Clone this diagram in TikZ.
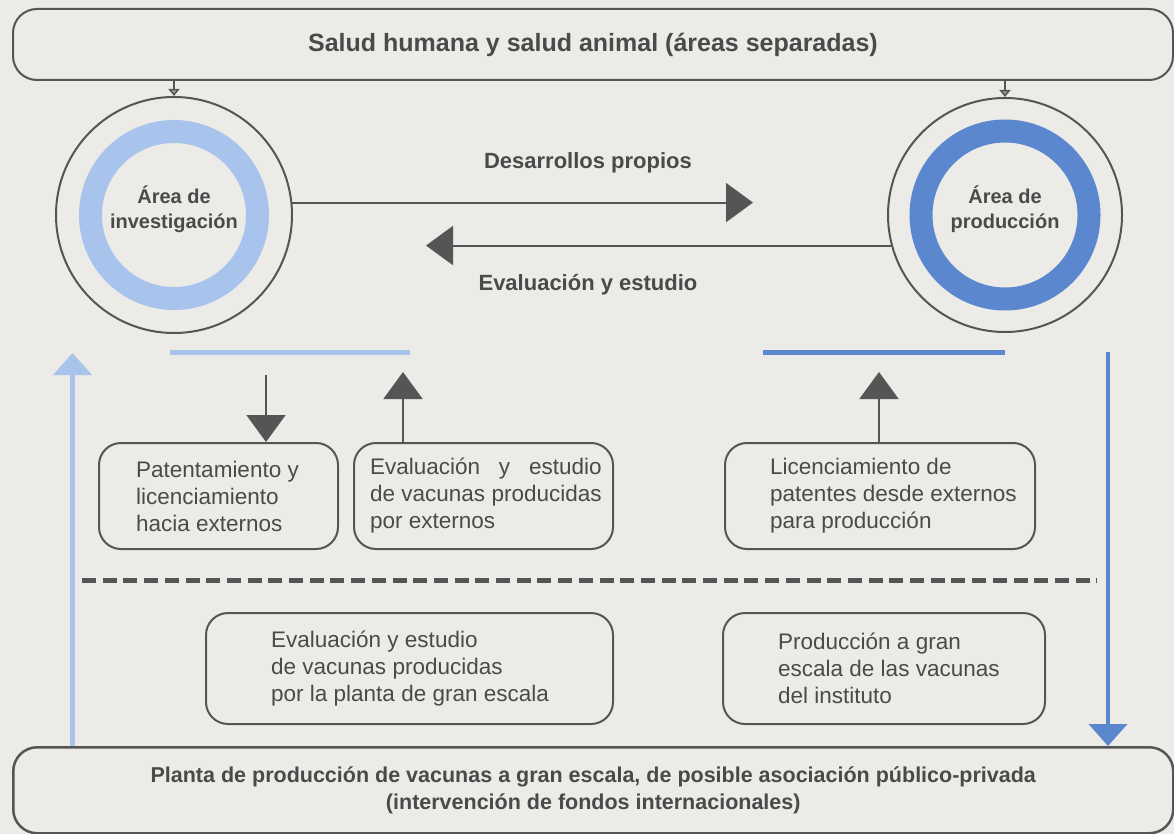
\documentclass[tikz,border=0pt]{standalone}
\usepackage{fontspec}
\setmainfont{Liberation Sans}
\usetikzlibrary{arrows.meta,calc}
\definecolor{bg}{HTML}{ECEBE7}
\definecolor{ink}{HTML}{4A4A4A}
\definecolor{lineg}{HTML}{555555}
\definecolor{lblue}{HTML}{A8C4EC}
\definecolor{dblue}{HTML}{5B87CF}
\begin{document}
\begin{tikzpicture}[x=1pt,y=-1pt,
  bar/.style={draw=lineg, line width=2pt, rounded corners=24pt, anchor=north west, inner sep=0pt, text=ink, align=center},
  card/.style={draw=lineg, line width=2pt, rounded corners=22pt, anchor=north west, inner sep=0pt},
  cardtext/.style={anchor=west, align=left, text=ink, inner sep=0pt, font=\fontsize{22.5}{27}\selectfont},
  lbl/.style={text=ink, inner sep=0pt, font=\bfseries\fontsize{22}{26}\selectfont},
  area/.style={circle, draw=lineg, line width=2pt, inner sep=0pt},
  areatext/.style={text=ink, align=center, inner sep=0pt, font=\bfseries\fontsize{20}{25}\selectfont},
  bigarr/.style={draw=lineg, line width=2pt, -{Triangle[length=27pt,width=39pt]}},
  smallarr/.style={draw=lineg, line width=1.5pt, -{Triangle[length=7pt,width=11pt,fill=lineg!60]}},
  bluearr/.style={line width=4.5pt, -{Triangle[length=22pt,width=38pt]}}
]
\useasboundingbox (0,0) rectangle (1174,834);
\fill[bg] (0,0) rectangle (1174,834);

% top and bottom bars
\node[bar, minimum width=1160pt, minimum height=71pt, font=\bfseries\fontsize{25}{30}\selectfont] (top) at (12,8) {Salud humana y salud animal (áreas separadas)};
\node[bar, line width=2.5pt, minimum width=1160pt, minimum height=86pt, font=\bfseries\fontsize{21.5}{27}\selectfont] (bot) at (12,746) {Planta de producción de vacunas a gran escala, de posible asociación público-privada\\(intervención de fondos internacionales)};

% circles
\coordinate (lcc) at (174,215);
\coordinate (rcc) at (1005,215);
\draw[lblue, line width=23pt] (lcc) circle[radius=83.5pt];
\draw[dblue, line width=23pt] (rcc) circle[radius=84pt];
\node[area, minimum size=236pt] (lc) at (lcc) {};
\node[area, minimum size=234pt] (rc) at (rcc) {};
\node[areatext] (lct) at ($(lcc)+(0,-6)$) {Área de\\investigación};
\node[areatext] (rct) at ($(rcc)+(0,-6)$) {Área de\\producción};

\draw[smallarr] (top.south -| lcc) -- (lc.north);
\draw[smallarr] (top.south -| rcc) -- (rc.north);

% horizontal arrows
\coordinate (dtip) at (753,201);
\coordinate (etip) at (426,247);
\draw[bigarr] (lc.6.8) -- (lc.6.8 -| dtip);
\draw[bigarr] (rc.195.9) -- (rc.195.9 -| etip);
\node[lbl] (dlab) at (588,163) {Desarrollos propios};
\node[lbl] (elab) at (588,285) {Evaluación y estudio};

% colored bars
\draw[lblue, line width=5pt] (170,352) -- (410,352);
\draw[dblue, line width=5pt] (763,352) -- (1005,352);

% cards row 1
\node[card, minimum width=239pt, minimum height=106pt] (b1) at (98,442) {};
\node[cardtext] (t1) at ($(b1.west)+(38,0)$) {Patentamiento y\\licenciamiento\\hacia externos};
\node[card, minimum width=259pt, minimum height=106pt] (b2) at (353,442) {};
\node[cardtext] (t2) at ($(b2.west)+(17,0)$) {{\setbox0\hbox{de vacunas producidas}\hbox to\wd0{Evaluación\hfill y\hfill estudio}}\\de vacunas producidas\\por externos};
\node[card, minimum width=310pt, minimum height=106pt] (b3) at (724,442) {};
\node[cardtext] (t3) at ($(b3.west)+(46,0)$) {Licenciamiento de\\patentes desde externos\\para producción};

% cards row 2
\node[card, minimum width=407pt, minimum height=111pt] (b4) at (205,612) {};
\node[cardtext] (t4) at ($(b4.west)+(66,0)$) {Evaluación y estudio\\de vacunas producidas\\por la planta de gran escala};
\node[card, minimum width=322pt, minimum height=111pt] (b5) at (722,612) {};
\node[cardtext] (t5) at ($(b5.west)+(56,0)$) {Producción a gran\\escala de las vacunas\\del instituto};

% vertical arrows to/from cards
\coordinate (a1s) at (266,375);
\coordinate (a2e) at (403,372);
\coordinate (a3e) at (879,372);
\draw[bigarr] (a1s) -- (a1s |- b1.north);
\draw[bigarr] (b2.north -| a2e) -- (a2e);
\draw[bigarr] (b3.north -| a3e) -- (a3e);

% dashed separator
\draw[lineg, line width=5pt, dash pattern=on 14pt off 6.7pt] (82,580) -- (1097,580);

% long blue arrows
\coordinate (lvt) at (72.5,353);
\coordinate (rvs) at (1108,352);
\draw[bluearr, lblue] (bot.north -| lvt) -- (lvt);
\draw[bluearr, dblue] (rvs) -- (rvs |- bot.north);
\end{tikzpicture}
\end{document}
